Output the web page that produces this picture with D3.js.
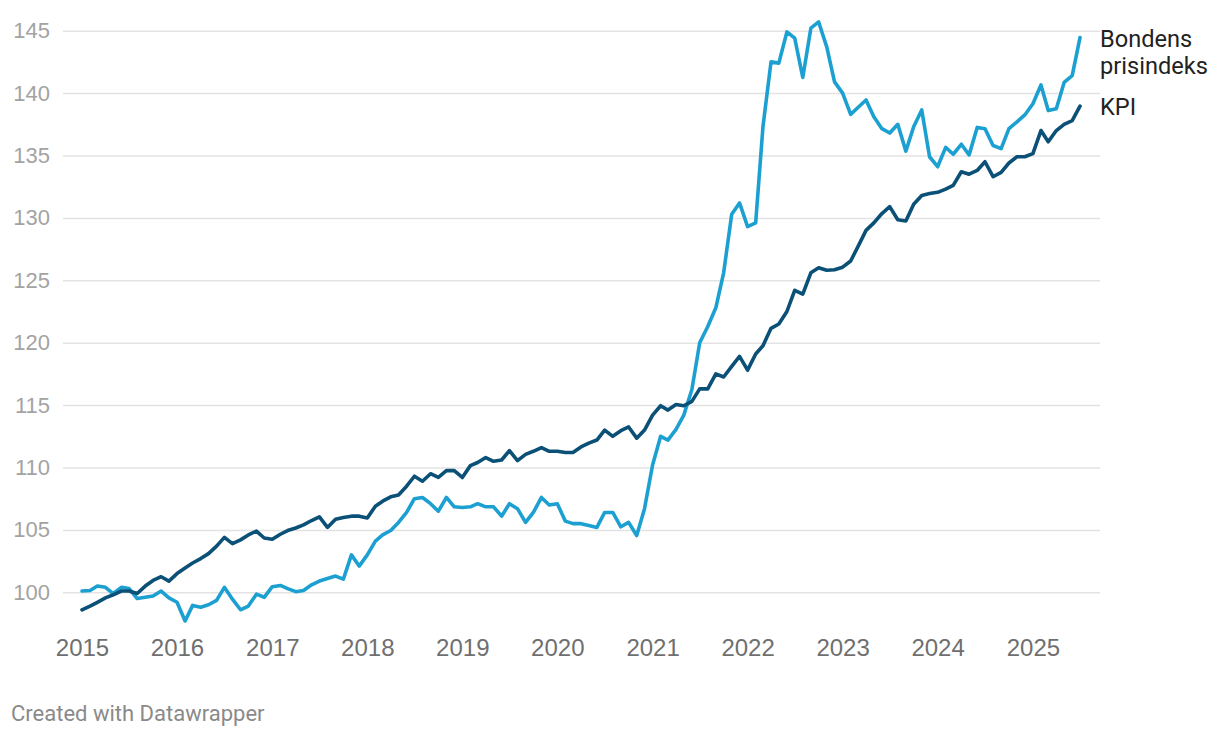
<!DOCTYPE html>
<html>
<head>
<meta charset="utf-8">
<script src="https://cdn.jsdelivr.net/npm/d3@7"></script>
<style>
  body { margin: 0; background: #fff; }
  svg { font-family: Roboto, sans-serif; display: block; }
  .grid line { stroke: #e3e3e3; stroke-width: 1.5; }
  .grid text { fill: #a3a3a3; font-size: 22px; }
  .xaxis text { fill: #6f6f6f; font-size: 24px; }
  .label { fill: #222; font-size: 23.6px; }
  .credit { fill: #8a8a8a; font-size: 22px; }
</style>
</head>
<body>
<svg id="chart" width="1220" height="738"></svg>
<script>
// monthly index values, Jan 2015 .. Jul 2025
const startMonth = "2015-01-01";
const endMonth = "2025-08-01";

const kpi = [
  98.6, 98.9, 99.2, 99.55, 99.8, 100.1, 100.1, 99.9, 100.5, 100.95, 101.25, 100.9,
  101.5, 101.95, 102.35, 102.7, 103.1, 103.7, 104.4, 103.9, 104.2, 104.6, 104.9, 104.35,
  104.25, 104.65, 104.95, 105.15, 105.4, 105.75, 106.05, 105.2, 105.85, 106.0, 106.1, 106.1,
  105.95, 106.9, 107.3, 107.65, 107.8, 108.5, 109.3, 108.9, 109.5, 109.2, 109.75, 109.75,
  109.2, 110.15, 110.4, 110.8, 110.5, 110.6, 111.35, 110.55, 111.05, 111.3, 111.6, 111.3,
  111.3, 111.2, 111.2, 111.65, 111.95, 112.2, 113.0, 112.5, 112.95, 113.25, 112.35, 113.0,
  114.2, 114.95, 114.6, 115.05, 114.95, 115.3, 116.3, 116.3, 117.5, 117.25, 118.1, 118.9,
  117.8, 119.1, 119.75, 121.15, 121.5, 122.5, 124.2, 123.9, 125.6, 126.0, 125.8, 125.85,
  126.05, 126.55, 127.7, 129.0, 129.6, 130.35, 130.9, 129.85, 129.75, 131.1, 131.8, 131.95,
  132.05, 132.3, 132.6, 133.7, 133.5, 133.8, 134.5, 133.3, 133.65, 134.4, 134.9, 134.9,
  135.15, 137.0, 136.1, 137.0, 137.5, 137.8, 138.95
];

const bondens = [
  100.1, 100.15, 100.5, 100.4, 99.9, 100.4, 100.3, 99.5, 99.6, 99.7, 100.1, 99.55,
  99.2, 97.7, 98.95, 98.8, 99.0, 99.35, 100.4, 99.45, 98.6, 98.9, 99.85, 99.6,
  100.45, 100.55, 100.3, 100.05, 100.15, 100.6, 100.9, 101.1, 101.3, 101.05, 103.0, 102.1,
  103.0, 104.1, 104.6, 104.95, 105.6, 106.4, 107.5, 107.6, 107.1, 106.5, 107.6, 106.85,
  106.8, 106.85, 107.1, 106.85, 106.85, 106.1, 107.1, 106.7, 105.6, 106.4, 107.6, 107.0,
  107.1, 105.7, 105.5, 105.5, 105.35, 105.2, 106.4, 106.4, 105.25, 105.6, 104.55, 106.7,
  110.2, 112.5, 112.2, 113.05, 114.2, 116.25, 120.0, 121.3, 122.8, 125.6, 130.3, 131.2,
  129.3, 129.6, 137.3, 142.5, 142.4, 144.9, 144.4, 141.25, 145.2, 145.7, 143.7, 140.9,
  140.0, 138.3, 138.85, 139.45, 138.1, 137.15, 136.8, 137.5, 135.35, 137.3, 138.65, 134.9,
  134.1, 135.65, 135.1, 135.9, 135.05, 137.25, 137.15, 135.8, 135.55, 137.15, 137.7, 138.25,
  139.15, 140.65, 138.6, 138.75, 140.85, 141.4, 144.45
];

const yTicks = [100, 105, 110, 115, 120, 125, 130, 135, 140, 145];
const xTicks = [2015, 2016, 2017, 2018, 2019, 2020, 2021, 2022, 2023, 2024, 2025];

const seriesNames = [["Bondens", "prisindeks"], ["KPI"]];
const seriesColors = ["#1ca0d1", "#0b5077"];

const months = d3.utcMonth.range(new Date(startMonth), new Date(endMonth));
const series = [bondens, kpi];

const svg = d3.select("#chart");
const gridLeft = 63, gridRight = 1100;

const x = d3.scaleUtc()
    .domain([months[0], months[months.length - 1]])
    .range([82, 1080]);

const y = d3.scaleLinear()
    .domain([100, 145])
    .range([592.3, 30.7]);

// gridlines + y labels
svg.append("g").attr("class", "grid")
    .attr("transform", `translate(${gridRight},0)`)
    .call(d3.axisLeft(y).tickValues(yTicks).tickSize(gridRight - gridLeft).tickPadding(13))
    .call(g => g.select(".domain").remove())
    .call(g => g.selectAll("text").attr("text-anchor", "end"));

// x axis, year labels only
svg.append("g").attr("class", "xaxis")
    .attr("transform", "translate(0,600)")
    .call(d3.axisBottom(x)
        .tickValues(xTicks.map(yr => new Date(Date.UTC(yr, 0, 1))))
        .tickFormat(d3.utcFormat("%Y"))
        .tickSize(0).tickPadding(39))
    .call(g => g.select(".domain").remove());

const line = d3.line()
    .x((d, i) => x(months[i]))
    .y(d => y(d));

svg.selectAll(".series")
   .data(series)
    .join("path").attr("class", "series")
      .attr("d", line)
      .attr("fill", "none")
      .attr("stroke", (d, i) => seriesColors[i])
      .attr("stroke-width", 3.6)
      .attr("stroke-linejoin", "round")
      .attr("stroke-linecap", "round");

// direct labels at the line ends
series.forEach((s, i) => {
    const yEnd = y(s[s.length - 1]);
    const t = svg.append("text").attr("class", "label")
        .attr("x", 1100).attr("y", yEnd + 9);
    seriesNames[i].forEach((w, k) => {
        t.append("tspan").attr("x", 1100).attr("dy", k === 0 ? 0 : 27).text(w);
    });
});

svg.append("text").attr("class", "credit")
    .attr("x", 11).attr("y", 721)
    .text("Created with Datawrapper");
</script>
</body>
</html>
